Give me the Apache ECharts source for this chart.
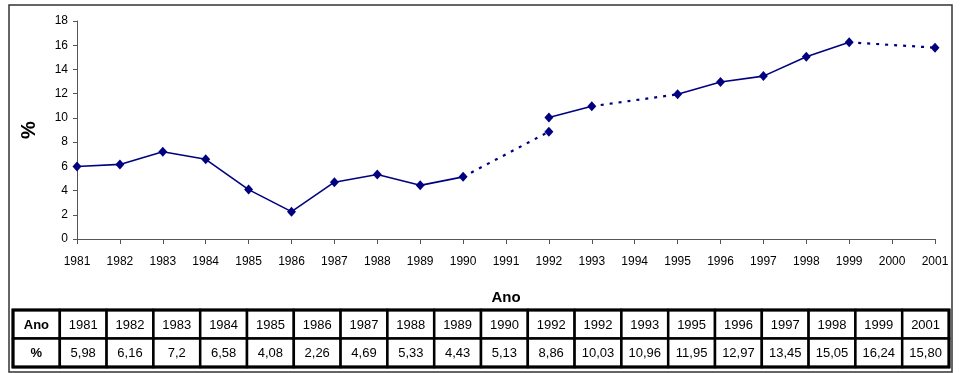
<!DOCTYPE html>
<html>
<head>
<meta charset="utf-8">
<script src="https://cdn.jsdelivr.net/npm/echarts@6/dist/echarts.min.js"></script>
<style>
html,body{margin:0;padding:0;background:#fff;}
#chart{width:963px;height:373px;}
</style>
</head>
<body>
<div id="chart"></div>
<script>
// Axis categories (years on the x axis)
var axisYears = ['1981','1982','1983','1984','1985','1986','1987','1988','1989','1990','1991','1992','1993','1994','1995','1996','1997','1998','1999','2000','2001'];
// Table / data points (as printed in the table)
var tableYears = ['1981','1982','1983','1984','1985','1986','1987','1988','1989','1990','1992','1992','1993','1995','1996','1997','1998','1999','2001'];
var tableValues = ['5,98','6,16','7,2','6,58','4,08','2,26','4,69','5,33','4,43','5,13','8,86','10,03','10,96','11,95','12,97','13,45','15,05','16,24','15,80'];
var yTicks = [0, 18, 2]; // min, max, interval
var rowHeaders = ['Ano', '%'];

var FONT = 'Arial, "Liberation Sans", sans-serif';
var NARROW = '"Liberation Sans Narrow", "Arial Narrow", Arial, "Liberation Sans", sans-serif';
var NAVY = '#000080';

var nums = tableValues.map(function (s) { return parseFloat(s.replace(',', '.')); });

// Segments: solid for consecutive years, dotted when years are skipped, none for the same year
var series = [];
for (var i = 0; i < tableYears.length - 1; i++) {
  var y0 = parseInt(tableYears[i], 10), y1 = parseInt(tableYears[i + 1], 10);
  if (y1 === y0) continue;
  var dotted = (y1 - y0) > 1;
  series.push({
    type: 'line',
    xAxisIndex: 0, yAxisIndex: 0,
    data: [[tableYears[i], nums[i]], [tableYears[i + 1], nums[i + 1]]],
    symbol: 'none',
    lineStyle: { color: NAVY, width: dotted ? 2.2 : 1.6, type: dotted ? [3, 6] : 'solid', opacity: 1 },
    silent: true, animation: false, z: 2
  });
}
// Markers
series.push({
  type: 'scatter',
  xAxisIndex: 0, yAxisIndex: 0,
  data: tableYears.map(function (y, k) { return [y, nums[k]]; }),
  symbol: 'diamond', symbolSize: [9, 10],
  itemStyle: { color: NAVY, opacity: 1 },
  animation: false, z: 3
});

// Table cells
var cols = ['H'].concat(tableYears.map(function (y, k) { return String(k); }));
var cells = [];
for (var c = 0; c < cols.length; c++) {
  for (var r = 0; r < 2; r++) {
    var txt, bold = false;
    if (c === 0) { txt = rowHeaders[r]; bold = true; }
    else { txt = r === 0 ? tableYears[c - 1] : tableValues[c - 1]; }
    cells.push({ value: [c, r], text: txt, bold: bold });
  }
}
series.push({
  type: 'custom',
  xAxisIndex: 1, yAxisIndex: 1,
  data: cells.map(function (d) { return d.value; }),
  animation: false,
  renderItem: function (params, api) {
    var cell = cells[params.dataIndex];
    var ctr = api.coord([api.value(0), api.value(1)]);
    var sz = api.size([1, 1]);
    return {
      type: 'group',
      children: [
        { type: 'rect', shape: { x: ctr[0] - sz[0] / 2, y: ctr[1] - sz[1] / 2, width: sz[0], height: sz[1] },
          style: { fill: '#fff', stroke: '#000', lineWidth: 2.5 } },
        { type: 'text', x: ctr[0], y: ctr[1] + 1,
          style: { text: cell.text, fill: '#000', align: 'center', verticalAlign: 'middle',
                   font: (cell.bold ? 'bold ' : '') + '13px ' + NARROW } }
      ]
    };
  }
});

var chart = echarts.init(document.getElementById('chart'), null, { renderer: 'canvas' });
chart.setOption({
  backgroundColor: '#fff',
  animation: false,
  textStyle: { fontFamily: FONT },
  grid: [
    { left: 77, right: 28, top: 21, height: 218, containLabel: false },
    { left: 13, right: 14, top: 310, height: 57, containLabel: false }
  ],
  xAxis: [
    {
      gridIndex: 0, type: 'category', data: axisYears, boundaryGap: false,
      name: 'Ano', nameLocation: 'middle', nameGap: 51,
      nameTextStyle: { fontFamily: FONT, fontWeight: 'bold', fontSize: 15, color: '#000' },
      axisLine: { lineStyle: { color: '#555', width: 1 } },
      axisTick: { show: true, length: 5, inside: false, alignWithLabel: true, lineStyle: { color: '#555' } },
      axisLabel: { color: '#000', fontSize: 12, fontFamily: FONT, margin: 17, interval: 0 },
      splitLine: { show: false }
    },
    {
      gridIndex: 1, type: 'category', data: cols, show: false
    }
  ],
  yAxis: [
    {
      gridIndex: 0, type: 'value', min: yTicks[0], max: yTicks[1], interval: yTicks[2],
      name: '%', nameLocation: 'middle', nameGap: 38, nameRotate: 90,
      nameTextStyle: { fontFamily: FONT, fontWeight: 'bold', fontSize: 20, color: '#000' },
      axisLine: { show: true, lineStyle: { color: '#555', width: 1 } },
      axisTick: { show: true, length: 4, lineStyle: { color: '#555' } },
      axisLabel: { color: '#000', fontSize: 12, fontFamily: FONT, margin: 9 },
      splitLine: { show: false }
    },
    {
      gridIndex: 1, type: 'category', data: ['0', '1'], inverse: true, show: false
    }
  ],
  graphic: [
    { type: 'rect', shape: { x: 9, y: 5, width: 943, height: 367 },
      style: { fill: null, stroke: '#333', lineWidth: 1.5 }, silent: true, z: -1 },
    { type: 'rect', shape: { x: 13, y: 310, width: 936, height: 57 },
      style: { fill: null, stroke: '#000', lineWidth: 3 }, silent: true, z: 10 }
  ],
  series: series
});
</script>
</body>
</html>
